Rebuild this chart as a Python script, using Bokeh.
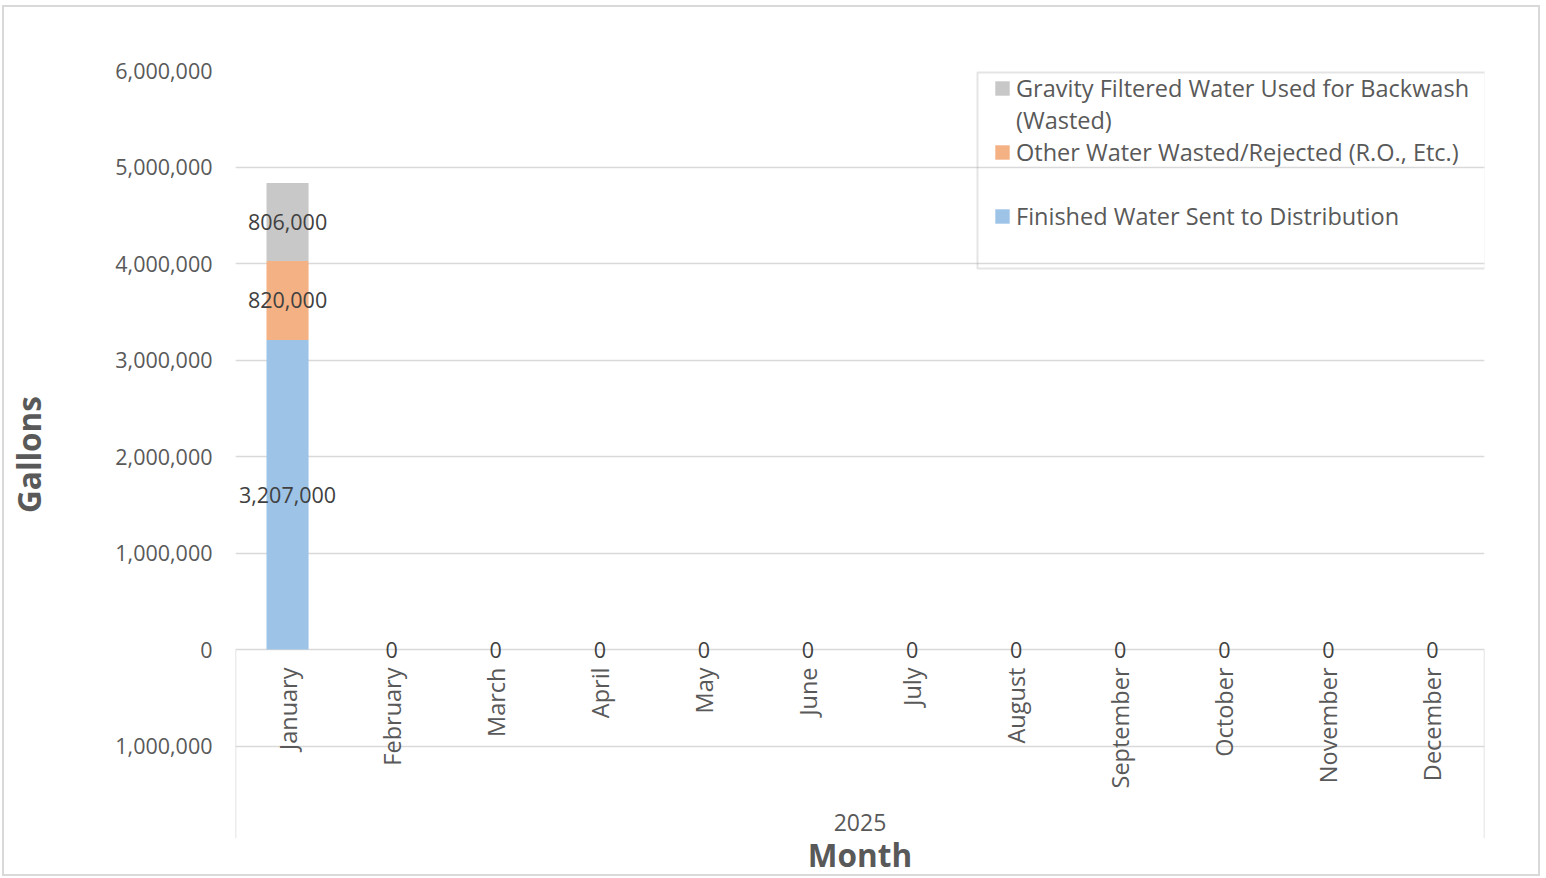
import math
from bokeh.plotting import figure
from bokeh.models import (ColumnDataSource, FactorRange, Range1d, FixedTicker,
                          CustomJSTickFormatter, Legend, LegendItem, BoxAnnotation)
from bokeh.core.properties import value
from bokeh.embed import file_html
from bokeh.resources import INLINE

# ---------------- data ----------------
months = ["January", "February", "March", "April", "May", "June", "July",
          "August", "September", "October", "November", "December"]
year_label = "2025"
finished = [3207000, 0, 0, 0, 0, 0, 0, 0, 0, 0, 0, 0]
other_wasted = [820000, 0, 0, 0, 0, 0, 0, 0, 0, 0, 0, 0]
gravity_backwash = [806000, 0, 0, 0, 0, 0, 0, 0, 0, 0, 0, 0]
series_keys = ["finished", "other", "gravity"]
series_labels = ["Finished Water Sent to Distribution",
                 "Other Water Wasted/Rejected (R.O., Etc.)",
                 "Gravity Filtered Water Used for Backwash"]
y_ticks = [-1000000, 0, 1000000, 2000000, 3000000, 4000000, 5000000, 6000000]
y_title = "Gallons"
x_title = "Month"

# ---------------- styles ----------------
FONT = "Open Sans"
colors = ["#9DC3E6", "#F4B183", "#C8C8C8"]
GRID = "#D9D9D9"
TXT = "#595959"
LBL = "#404040"
Y_MAX = 6000000
Y_MIN = -1958500

src = ColumnDataSource(dict(month=months, finished=finished,
                            other=other_wasted, gravity=gravity_backwash))

p = figure(width=1538, height=871, x_range=FactorRange(*months),
           y_range=Range1d(Y_MIN, Y_MAX), output_backend="svg",
           toolbar_location=None, title=None,
           min_border_left=231, min_border_right=58,
           min_border_top=63, min_border_bottom=36,
           styles={"margin-left": "2px", "margin-top": "5px",
                   "border": "2px solid #D9D9D9"})
p.outline_line_color = None
p.background_fill_color = "white"
p.border_fill_color = "white"

# grid
p.xgrid.visible = False
p.ygrid.ticker = FixedTicker(ticks=y_ticks)
p.ygrid.grid_line_color = GRID
p.ygrid.grid_line_width = 1.5

# y axis
p.yaxis.ticker = FixedTicker(ticks=y_ticks)
p.yaxis.formatter = CustomJSTickFormatter(code="return Math.abs(tick).toLocaleString('en-US')")
p.yaxis.axis_line_color = None
p.yaxis.major_tick_line_color = None
p.yaxis.minor_tick_line_color = None
p.yaxis.major_tick_out = 0
p.yaxis.major_label_standoff = 23
p.yaxis.major_label_text_font = FONT
p.yaxis.major_label_text_font_size = "21.5px"
p.yaxis.major_label_text_color = TXT
p.yaxis.axis_label = y_title
p.yaxis.axis_label_text_font = FONT
p.yaxis.axis_label_text_font_size = "31.5px"
p.yaxis.axis_label_text_font_style = "bold"
p.yaxis.axis_label_text_color = TXT
p.yaxis.axis_label_standoff = 62

# x axis: only the title; category labels are drawn at the zero line, Excel-style
p.xaxis.ticker = FixedTicker(ticks=[])
p.xaxis.axis_line_color = None
p.xaxis.major_tick_line_color = None
p.xaxis.minor_tick_line_color = None
p.xaxis.major_tick_out = 0
p.xaxis.major_label_standoff = 0
p.xaxis.axis_label = x_title
p.xaxis.axis_label_text_font = FONT
p.xaxis.axis_label_text_font_size = "31.5px"
p.xaxis.axis_label_text_font_style = "bold"
p.xaxis.axis_label_text_color = TXT
p.xaxis.axis_label_standoff = -6

# axis frame lines below zero
n = len(months)
p.segment(x0=[0, n], y0=[0, 0], x1=[0, n], y1=[Y_MIN, Y_MIN],
          line_color=GRID, line_width=1.5)

# stacked bars
rends = p.vbar_stack(series_keys, x="month", width=0.404, source=src,
                     fill_color=colors, line_color=None)

# data labels
lx, ly, lt = [], [], []
for i, m in enumerate(months):
    bottom = 0
    total = 0
    for arr in (finished, other_wasted, gravity_backwash):
        v = arr[i]
        if v > 0:
            lx.append(m); ly.append(bottom + v / 2); lt.append(f"{v:,}")
        bottom += v
        total += v
    if total == 0:
        lx.append(m); ly.append(0); lt.append("0")
p.text(x=lx, y=ly, text=lt, text_font=value(FONT), text_font_size="21.5px",
       text_color=LBL, text_align="center", text_baseline="middle")

# category labels (rotated) hanging from the zero line
p.text(x=months, y=[0] * n, text=months, angle=math.pi / 2, y_offset=18,
       text_font=value(FONT), text_font_size="23.5px", text_color=TXT,
       text_align="right", text_baseline="middle")

# group label
p.text(x=[n / 2], y=[Y_MIN], text=[year_label], y_offset=-16,
       text_font=value(FONT), text_font_size="23px", text_color=TXT,
       text_align="center", text_baseline="middle")

# legend
ghost = p.rect(x=[], y=[], width=0, height=0, fill_alpha=0, line_alpha=0)
items = [
    LegendItem(label="Gravity Filtered Water Used for Backwash", renderers=[rends[2]]),
    LegendItem(label="(Wasted)", renderers=[ghost]),
    LegendItem(label=series_labels[1], renderers=[rends[1]]),
    LegendItem(label=" ", renderers=[ghost]),
    LegendItem(label=series_labels[0], renderers=[rends[0]]),
    LegendItem(label=" ", renderers=[ghost]),
]
legend = Legend(items=items, location=(758, 574), padding=0, spacing=0,
                label_height=32, glyph_width=18, glyph_height=18,
                label_standoff=5, border_line_alpha=0, background_fill_alpha=0,
                label_text_font=FONT, label_text_font_size="23.5px",
                label_text_color=TXT, margin=0)
p.add_layout(legend)

# legend frame
p.add_layout(BoxAnnotation(left=971, right=1479, top=63, bottom=259,
                           left_units="canvas", right_units="canvas",
                           top_units="canvas", bottom_units="canvas",
                           fill_alpha=0, line_color="#A6A6A6", line_width=2))

open("out.html", "w").write(file_html(p, INLINE))
